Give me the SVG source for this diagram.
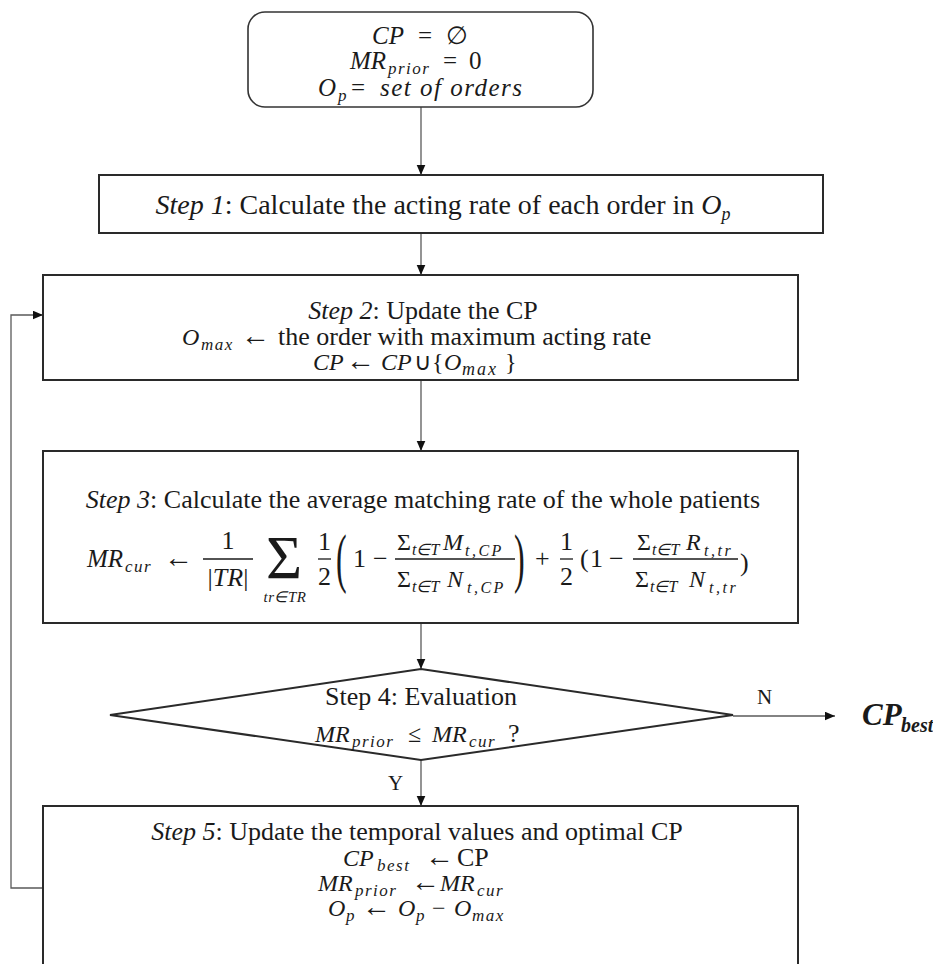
<svg xmlns="http://www.w3.org/2000/svg" width="933" height="964" viewBox="0 0 933 964">
<style>
.box{fill:#fff;stroke:#2a2a2a;stroke-width:2}
.rbox{fill:#fff;stroke:#333;stroke-width:1.6}
.conn{fill:none;stroke:#5a5a5a;stroke-width:1.3}
.bar{stroke:#1a1a1a;stroke-width:1.3}
text{font-family:"Liberation Serif","Times New Roman",serif;fill:#1a1a1a;font-size:26px}
.m{font-size:24px;font-style:italic}
.mb{font-size:25px;font-style:italic}
.i{font-style:italic}
.u{font-style:normal}
.ar{font-style:normal;font-size:29px}
.s{font-size:17px;letter-spacing:1.5px}
.ss{font-size:16px}
.f{font-size:24px}
.lbl{font-size:21px}
</style>
<defs>
<marker id="ah" markerWidth="11" markerHeight="10" refX="10.5" refY="4.5" orient="auto" markerUnits="userSpaceOnUse">
<path d="M0,0 L10.5,4.5 L0,9 z" fill="#111"/>
</marker>
</defs>

<g id="connectors">
<path class="conn" d="M421,107 V175" marker-end="url(#ah)"/>
<path class="conn" d="M421,233 V275" marker-end="url(#ah)"/>
<path class="conn" d="M421,380 V451" marker-end="url(#ah)"/>
<path class="conn" d="M421,623 V669" marker-end="url(#ah)"/>
<path class="conn" d="M421,760 V806" marker-end="url(#ah)"/>
<path class="conn" d="M733,716 H835" marker-end="url(#ah)"/>
<path class="conn" d="M43,888 H11 V315 H43" marker-end="url(#ah)"/>
<text x="757" y="704" class="lbl">N</text>
<text x="388" y="790" class="lbl">Y</text>
</g>

<g id="init">
<rect class="rbox" x="248" y="12" width="345" height="95" rx="17"/>
<text y="44" class="mb"><tspan x="372">CP</tspan><tspan x="418" class="u">=</tspan><tspan x="446" class="u">∅</tspan></text>
<text y="69" class="mb"><tspan x="350">MR</tspan><tspan x="388" y="74" class="s">prior</tspan><tspan x="443" y="69" class="u">=</tspan><tspan x="469" class="u">0</tspan></text>
<text y="96" class="mb"><tspan x="318">O</tspan><tspan x="338" y="101" class="s">p</tspan><tspan x="351" y="96" class="u">=</tspan><tspan x="380" letter-spacing="1.5">set of orders</tspan></text>
</g>

<g id="step1">
<rect class="box" x="99" y="175" width="724" height="58"/>
<text x="443" y="214" text-anchor="middle" style="font-size:28px"><tspan class="i">Step 1</tspan>: Calculate the acting rate of each order in <tspan class="i">O</tspan><tspan class="i" style="font-size:18px" dy="6">p</tspan></text>
</g>

<g id="step2">
<rect class="box" x="43" y="275" width="755" height="105"/>
<text x="423" y="319" text-anchor="middle"><tspan class="i">Step 2</tspan>: Update the CP</text>
<text y="345"><tspan x="182" class="m">O</tspan><tspan x="201" y="350" class="i s">max</tspan><tspan x="241" y="345" class="ar">←</tspan><tspan x="278">the order with maximum acting rate</tspan></text>
<text y="370" class="m"><tspan x="313">CP</tspan><tspan x="346" class="ar">←</tspan><tspan x="381">CP</tspan><tspan x="414" class="u">∪</tspan><tspan x="432" class="u">{</tspan><tspan x="444">O</tspan><tspan x="462" y="375" style="font-size:18px" letter-spacing="2">max</tspan><tspan x="505" y="370" class="u">}</tspan></text>
</g>

<g id="step3">
<rect class="box" x="43" y="451" width="755" height="172"/>
<text x="423" y="508" text-anchor="middle"><tspan class="i">Step 3</tspan>: Calculate the average matching rate of the whole patients</text>
<text y="567" class="mb"><tspan x="87">MR</tspan><tspan x="125" y="572" class="s">cur</tspan><tspan x="164" y="567" class="ar">←</tspan></text>
<text x="228" y="549" text-anchor="middle">1</text>
<line class="bar" x1="203" y1="559" x2="253" y2="559"/>
<text x="228" y="586" text-anchor="middle">|<tspan class="i">TR</tspan>|</text>
<text x="266" y="578" style="font-size:62px">Σ</text>
<text x="285" y="602" text-anchor="middle" class="i" style="font-size:15px" letter-spacing="0.5">tr∈TR</text>
<text x="324.5" y="550" text-anchor="middle">1</text>
<line class="bar" x1="318" y1="559" x2="331" y2="559"/>
<text x="324.5" y="585" text-anchor="middle">2</text>
<text transform="translate(336,580) scale(1,2.05)" style="font-size:32px">(</text>
<text y="567"><tspan x="353">1</tspan><tspan x="373">−</tspan></text>
<text y="550" class="f"><tspan x="397">Σ</tspan><tspan x="412" y="555" class="i ss">t∈T</tspan><tspan x="443" y="550" class="i">M</tspan><tspan x="465" y="556" class="i ss" letter-spacing="2.5">t,CP</tspan></text>
<line class="bar" x1="395" y1="559" x2="515" y2="559"/>
<text y="587" class="f"><tspan x="397">Σ</tspan><tspan x="412" y="592" class="i ss">t∈T</tspan><tspan x="447" y="587" class="i">N</tspan><tspan x="467" y="593" class="i ss" letter-spacing="2.5">t,CP</tspan></text>
<text transform="translate(514,580) scale(1,2.05)" style="font-size:32px">)</text>
<text y="567"><tspan x="535">+</tspan></text>
<text x="566.5" y="550" text-anchor="middle">1</text>
<line class="bar" x1="560" y1="559" x2="573" y2="559"/>
<text x="566.5" y="585" text-anchor="middle">2</text>
<text y="567"><tspan x="580">(</tspan><tspan x="590">1</tspan><tspan x="609">−</tspan></text>
<text y="550" class="f"><tspan x="637">Σ</tspan><tspan x="652" y="555" class="i ss">t∈T</tspan><tspan x="686" y="550" class="i">R</tspan><tspan x="704" y="556" class="i ss" letter-spacing="2.5">t,tr</tspan></text>
<line class="bar" x1="633" y1="559" x2="738" y2="559"/>
<text y="587" class="f"><tspan x="635">Σ</tspan><tspan x="650" y="592" class="i ss">t∈T</tspan><tspan x="689" y="587" class="i">N</tspan><tspan x="709" y="593" class="i ss" letter-spacing="2.5">t,tr</tspan></text>
<text x="740" y="571">)</text>
</g>

<g id="step4">
<polygon class="box" points="110,715 421,669 733,715 421,760"/>
<text x="421" y="705" text-anchor="middle">Step 4: Evaluation</text>
<text y="742" class="m"><tspan x="315">MR</tspan><tspan x="352" y="747" class="s" letter-spacing="2.5">prior</tspan><tspan x="408" y="742" class="u">≤</tspan><tspan x="432">MR</tspan><tspan x="469" y="747" class="s" letter-spacing="2.5">cur</tspan><tspan x="508" y="742" class="u" style="font-size:26px">?</tspan></text>
</g>

<g id="cpbest">
<text y="725" style="font-weight:bold;font-style:italic"><tspan x="862" style="font-size:31px">CP</tspan><tspan x="901" y="732" style="font-size:20px">best</tspan></text>
</g>

<g id="step5">
<rect class="box" x="43" y="806" width="755" height="180"/>
<text x="417" y="840" text-anchor="middle"><tspan class="i">Step 5</tspan>: Update the temporal values and optimal CP</text>
<text y="866" class="m"><tspan x="343">CP</tspan><tspan x="377" y="871" class="s" letter-spacing="3">best</tspan><tspan x="425" y="866" class="ar">←</tspan><tspan x="457" class="u" style="font-size:26px">CP</tspan></text>
<text y="891" class="m"><tspan x="318">MR</tspan><tspan x="355" y="896" class="s" letter-spacing="2.5">prior</tspan><tspan x="411" y="891" class="ar">←</tspan><tspan x="440">MR</tspan><tspan x="477" y="896" class="s" letter-spacing="2.5">cur</tspan></text>
<text y="916" class="m"><tspan x="328">O</tspan><tspan x="346" y="921" class="s">p</tspan><tspan x="362" y="916" class="ar">←</tspan><tspan x="398">O</tspan><tspan x="416" y="921" class="s">p</tspan><tspan x="432" y="916" class="u">−</tspan><tspan x="454">O</tspan><tspan x="472" y="921" class="s">max</tspan></text>
</g>
</svg>
